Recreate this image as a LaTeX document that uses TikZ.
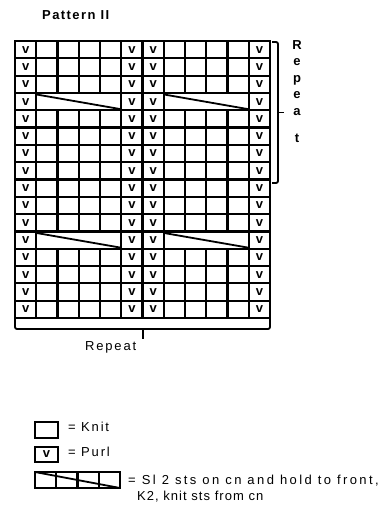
\documentclass[tikz,border=0pt]{standalone}
\usepackage{fontspec}
\setmainfont{Liberation Sans}
\newfontfamily\trackfont[LetterSpace=14]{Liberation Sans}
\newfontfamily\widefont[LetterSpace=18.5]{Liberation Sans}
\newfontfamily\tightfont[LetterSpace=8]{Liberation Sans}
\newfontfamily\titlefont[LetterSpace=11]{Liberation Sans}

\begin{document}
\begin{tikzpicture}[
  x=1pt, y=-1pt,
  font=\fontsize{13}{15}\trackfont,
  gridline/.style={line width=2.2pt, draw=black},
  cableline/.style={line width=1.8pt, draw=black},
  bracket/.style={line width=1.8pt, draw=black, rounded corners=2pt},
  purlmark/.style={font=\fontsize{13}{15}\selectfont\bfseries, inner sep=0pt},
  label/.style={anchor=base west, inner sep=0pt},
  vletter/.style={anchor=base, inner sep=0pt, font=\fontsize{13}{15}\selectfont\bfseries}
]
\useasboundingbox (0,0) rectangle (386,508);

\def\gx{15}
\def\gy{41}
\def\cw{21.25}
\def\rh{17.3125}

% title
\node[label, font=\fontsize{13}{15}\titlefont\bfseries] (title) at (42,20) {Pattern II};

% chart grid
\foreach \i in {1,...,11}
  \draw[gridline] ({\gx+\i*\cw},\gy) -- ({\gx+\i*\cw},{\gy+16*\rh});
\foreach \j in {1,...,15}
  \draw[gridline] (\gx,{\gy+\j*\rh}) -- ({\gx+12*\cw},{\gy+\j*\rh});
\draw[gridline] (\gx,\gy) rectangle ({\gx+12*\cw},{\gy+16*\rh});

% cables
\foreach \r in {4,12}
  \foreach \c in {2,8} {
    \fill[white] ({\gx+(\c-1)*\cw+1.2},{\gy+(\r-1)*\rh+1.2}) rectangle ({\gx+(\c+3)*\cw-1.2},{\gy+\r*\rh-1.2});
    \draw[cableline] ({\gx+(\c-1)*\cw},{\gy+(\r-1)*\rh+1.5}) -- ({\gx+(\c+3)*\cw},{\gy+\r*\rh-1});
  }

% purl stitches
\foreach \r in {1,...,16}
  \foreach \c in {1,6,7,12}
    \node[purlmark] (v-\r-\c) at ({\gx+(\c-0.5)*\cw},{\gy+(\r-0.5)*\rh}) {v};

% row repeat
\draw[bracket] (272,42) -- (278,42) -- (278,183) -- (272,183);
\draw[bracket] (278,112.5) -- (284,112.5);
\foreach \ch/\yy [count=\k] in {R/50,e/66,p/83,e/99,a/116,t/142}
  \node[vletter] (rep-\k) at (297,\yy) {\ch};

% stitch repeat
\draw[bracket] (\gx,319) -- (\gx,329) -- ({\gx+12*\cw},329) -- ({\gx+12*\cw},319);
\draw[bracket] (143,329) -- (143,339);
\node[label] (repeat) at (85,350) {Repeat};

% key
\draw[gridline] (35,422) rectangle (58,438);
\node[label] (knit) at (68,431) {= Knit};

\draw[gridline] (35,447) rectangle (58,462);
\node[purlmark] (purlv) at (46.5,454.5) {v};
\node[label] (purl) at (68,456) {= Purl};

\draw[gridline] (35,472) rectangle (120,488);
\foreach \i in {1,2,3}
  \draw[gridline] ({35+\i*21.25},472) -- ({35+\i*21.25},488);
\draw[cableline] (35,472) -- (120,488);
\node[label, font=\fontsize{13}{15}\widefont] (cable1) at (128,484) {= Sl 2 sts on cn and hold to front,};
\node[label, font=\fontsize{13}{15}\tightfont] (cable2) at (137,500) {K2, knit sts from cn};

\end{tikzpicture}
\end{document}
